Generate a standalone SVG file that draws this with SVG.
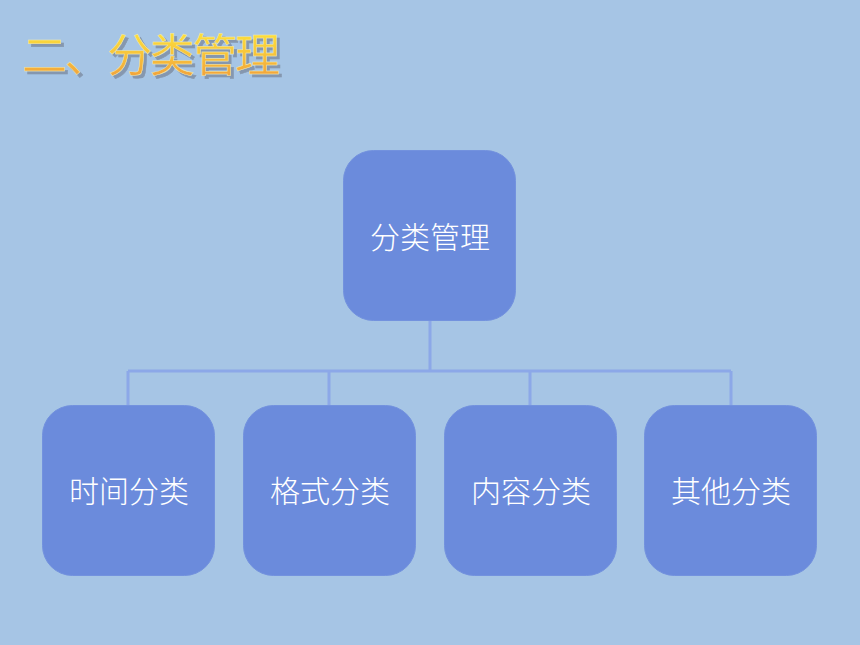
<svg xmlns="http://www.w3.org/2000/svg" width="860" height="645" viewBox="0 0 860 645">
<defs>
<linearGradient id="tg" x1="0" y1="0" x2="0" y2="1">
<stop offset="0" stop-color="#fff23a"/>
<stop offset="0.5" stop-color="#f8c63a"/>
<stop offset="1" stop-color="#f0963a"/>
</linearGradient>
<filter id="sh" x="-10%" y="-20%" width="120%" height="150%">
<feDropShadow dx="3" dy="3" stdDeviation="0.6" flood-color="#7f8fa5" flood-opacity="0.85"/>
</filter>
<style>
.box{fill:#6b8bdc;stroke:#7392de;stroke-width:1}
.lbl{fill:#ffffff;font-family:"Noto Sans CJK SC","Noto Sans CJK JP",sans-serif;font-size:30px;font-weight:300;text-anchor:middle;dominant-baseline:central}
.conn{fill:none;stroke:#8ca8e8;stroke-width:3}
.title{font-family:"Noto Sans CJK SC",sans-serif;font-size:45px;font-weight:400}
</style>
</defs>
<rect x="0" y="0" width="860" height="645" fill="#a6c5e5"/>
<g id="title">
<text class="title" x="22" y="72" fill="url(#tg)" stroke="#eee8b0" stroke-width="0.5" filter="url(#sh)" textLength="258" lengthAdjust="spacing">二、分类管理</text>
</g>
<g id="connectors">
<path class="conn" d="M430 321 V371 M128 371 H731 M128 371 V405 M329 371 V405 M530 371 V405 M731 371 V405"/>
</g>
<g id="root">
<rect class="box" x="343.5" y="150.5" width="172" height="170" rx="30"/>
<text class="lbl" x="430" y="235">分类管理</text>
</g>
<g id="time">
<rect class="box" x="42.5" y="405.5" width="172" height="170" rx="30"/>
<text class="lbl" x="129" y="489">时间分类</text>
</g>
<g id="format">
<rect class="box" x="243.5" y="405.5" width="172" height="170" rx="30"/>
<text class="lbl" x="330" y="489">格式分类</text>
</g>
<g id="content">
<rect class="box" x="444.5" y="405.5" width="172" height="170" rx="30"/>
<text class="lbl" x="531" y="489">内容分类</text>
</g>
<g id="other">
<rect class="box" x="644.5" y="405.5" width="172" height="170" rx="30"/>
<text class="lbl" x="731" y="489">其他分类</text>
</g>
</svg>
